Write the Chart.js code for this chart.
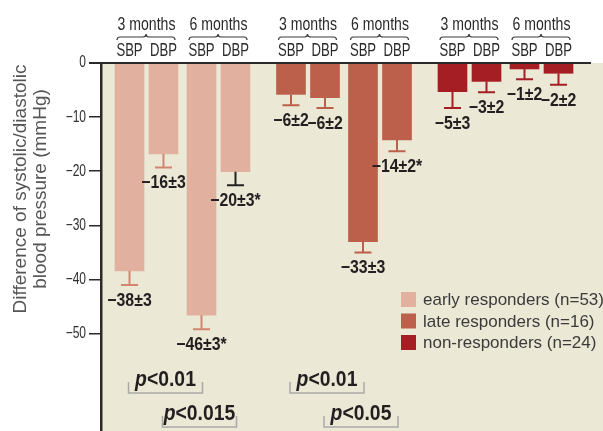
<!DOCTYPE html>
<html><head><meta charset="utf-8">
<script src="https://cdn.jsdelivr.net/npm/chart.js@4.4.1/dist/chart.umd.min.js"></script>
<style>html,body{margin:0;padding:0;background:#fff;overflow:hidden}canvas{display:block}</style>
</head><body>
<canvas id="c" width="603" height="431"></canvas>
<script>
// ---------- data ----------
const groupLabels = ['early responders (n=53)', 'late responders (n=16)', 'non-responders (n=24)'];
const periodLabels = ['3 months', '6 months'];
const measureLabels = ['SBP', 'DBP'];
// bar order inside a group: 3m SBP, 3m DBP, 6m SBP, 6m DBP
const earlyMeans = [-38.4, -16.8, -46.6, -20.1];
const earlyErrors = [2.6, 2.5, 2.6, 2.5];
const earlyTexts = ['\u221238\u00b13', '\u221216\u00b13', '\u221246\u00b13*', '\u221220\u00b13*'];
const lateMeans = [-5.8, -6.4, -33.0, -14.2];
const lateErrors = [2.0, 1.9, 2.0, 2.1];
const lateTexts = ['\u22126\u00b12', '\u22126\u00b12', '\u221233\u00b13', '\u221214\u00b12*'];
const nonMeans = [-5.3, -3.4, -1.1, -1.9];
const nonErrors = [3.0, 2.0, 1.9, 2.1];
const nonTexts = ['\u22125\u00b13', '\u22123\u00b12', '\u22121\u00b12', '\u22122\u00b12'];
const yTicks = [0, -10, -20, -30, -40, -50];
const axisTitle = ['Difference of systolic/diastolic', 'blood pressure (mmHg)'];
// significance comparisons: group, bar a, bar b, text
const compGroups = [0, 0, 1, 1];
const compA = [0, 1, 0, 1];
const compB = [2, 3, 2, 3];
const compTexts = ['<0.01', '<0.015', '<0.01', '<0.05'];

// ---------- layout / style ----------
const LAYOUT = { axisWidth: 101, top: 63, yMin: -68, xMax: 502,
  firstCenter: 28.5, groupStep: 161.5, periodStep: 72, barStep: 34, barWidth: 29 };
const barColors = ['#e1b09f', '#bc5f4b', '#a51e23'];
const errColors = ['#d4856f', '#bc5f4b', '#a51e23'];
const SANS = '"Liberation Sans", Arial, sans-serif';
const INK = '#231f20';

const series = [
  { label: groupLabels[0], means: earlyMeans, errs: earlyErrors, texts: earlyTexts },
  { label: groupLabels[1], means: lateMeans, errs: lateErrors, texts: lateTexts },
  { label: groupLabels[2], means: nonMeans, errs: nonErrors, texts: nonTexts }
];
function slotX(g, k) {
  return LAYOUT.firstCenter + g * LAYOUT.groupStep + Math.floor(k / 2) * LAYOUT.periodStep + (k % 2) * LAYOUT.barStep;
}

// draw text compressed horizontally (condensed look)
function sText(ctx, text, x, y, font, sx, align, baseline, color) {
  ctx.save();
  ctx.font = font;
  const w = ctx.measureText(text).width * sx;
  const left = align === 'center' ? x - w / 2 : align === 'right' ? x - w : x;
  ctx.translate(left, y);
  ctx.scale(sx, 1);
  ctx.textAlign = 'left';
  ctx.textBaseline = baseline || 'alphabetic';
  ctx.fillStyle = color || INK;
  ctx.fillText(text, 0, 0);
  ctx.restore();
  return w;
}
function textW(ctx, text, font, sx) {
  ctx.save(); ctx.font = font; const w = ctx.measureText(text).width * sx; ctx.restore(); return w;
}

function drawBrace(ctx, x1, x2, yy) {
  const m = (x1 + x2) / 2, r = 3;
  ctx.strokeStyle = '#3a3a3a';
  ctx.lineWidth = 1.2;
  ctx.beginPath();
  ctx.moveTo(x1, yy + r);
  ctx.quadraticCurveTo(x1, yy, x1 + r, yy);
  ctx.lineTo(m - r, yy);
  ctx.quadraticCurveTo(m, yy, m, yy - r);
  ctx.quadraticCurveTo(m, yy, m + r, yy);
  ctx.lineTo(x2 - r, yy);
  ctx.quadraticCurveTo(x2, yy, x2, yy + r);
  ctx.stroke();
}

const decor = {
  id: 'decor',
  beforeDraw(chart) {
    const { ctx, chartArea: ca } = chart;
    ctx.save();
    ctx.fillStyle = '#ffffff';
    ctx.fillRect(0, 0, chart.width, chart.height);
    ctx.fillStyle = '#ece8d6';
    ctx.fillRect(ca.left, ca.top, chart.width - ca.left, chart.height - ca.top);
    ctx.restore();
  },
  afterDatasetsDraw(chart) {
    const { ctx, chartArea: ca } = chart;
    const y = chart.scales.y;
    const y0 = y.getPixelForValue(0);
    ctx.save();
    // zero line
    ctx.strokeStyle = '#2a2a2a';
    ctx.lineWidth = 2;
    ctx.beginPath();
    ctx.moveTo(ca.left - 12, y0);
    ctx.lineTo(591, y0);
    ctx.stroke();

    // y tick labels (condensed)
    y.ticks.forEach(t => {
      const txt = t.value === 0 ? '0' : '\u2212' + Math.abs(t.value);
      sText(ctx, txt, ca.left - 15, y.getPixelForValue(t.value), '16px ' + SANS, 0.75, 'right', 'middle', '#2f2f2f');
    });

    // error bars + value labels
    series.forEach((s, g) => {
      const meta = chart.getDatasetMeta(g);
      meta.data.forEach((el, k) => {
        const yEnd = y.getPixelForValue(s.means[k] - s.errs[k]);
        const black = (g === 0 && k === 3);
        ctx.strokeStyle = black ? '#222' : errColors[g];
        ctx.lineWidth = 2;
        ctx.beginPath();
        ctx.moveTo(el.x, el.y);
        ctx.lineTo(el.x, yEnd);
        ctx.moveTo(el.x - 8.5, yEnd);
        ctx.lineTo(el.x + 8.5, yEnd);
        ctx.stroke();
        sText(ctx, s.texts[k], el.x, yEnd + 16, 'bold 18px ' + SANS, 0.88, 'center', 'middle', INK);
      });
      // headers
      periodLabels.forEach((p, t) => {
        const a = meta.data[2 * t], b = meta.data[2 * t + 1];
        const mid = (a.x + b.x) / 2;
        sText(ctx, p, mid, 25, '19px ' + SANS, 0.74, 'center', 'middle', '#2a2a2a');
        drawBrace(ctx, a.x - 12.5, b.x + 11.5, 37);
        measureLabels.forEach((m, j) => {
          sText(ctx, m, meta.data[2 * t + j].x, 51, '19px ' + SANS, 0.69, 'center', 'middle', '#2a2a2a');
        });
      });
    });

    // significance brackets
    compTexts.forEach((txt, i) => {
      const meta = chart.getDatasetMeta(compGroups[i]);
      const xa = meta.data[compA[i]].x - 1, xb = meta.data[compB[i]].x + 1;
      const row = compA[i] % 2;
      const yb = row === 0 ? 393 : 427;
      ctx.strokeStyle = '#a9a9a9';
      ctx.lineWidth = 1.5;
      ctx.beginPath();
      ctx.moveTo(xa, yb - 11);
      ctx.lineTo(xa, yb);
      ctx.lineTo(xb, yb);
      ctx.lineTo(xb, yb - 11);
      ctx.stroke();
      const fp = 'italic bold 22px ' + SANS, ft = 'bold 22px ' + SANS, sx = 0.88;
      const wp = textW(ctx, 'p', fp, sx), wt = textW(ctx, txt, ft, sx);
      const x0 = (xa + xb) / 2 - (wp + wt) / 2;
      sText(ctx, 'p', x0, yb - 7, fp, sx, 'left', 'alphabetic', INK);
      sText(ctx, txt, x0 + wp, yb - 7, ft, sx, 'left', 'alphabetic', INK);
    });

    // legend
    series.forEach((s, g) => {
      const cy = 299.5 + g * 21.5;
      ctx.fillStyle = barColors[g];
      ctx.fillRect(401, cy - 7.5, 15, 15);
      ctx.fillStyle = '#3a3a3a';
      ctx.font = '17px ' + SANS;
      ctx.textAlign = 'left';
      ctx.textBaseline = 'middle';
      ctx.fillText(s.label, 423, cy + 1);
    });

    // y-axis title
    ctx.save();
    ctx.translate(0, 189);
    ctx.rotate(-Math.PI / 2);
    ctx.fillStyle = '#555';
    ctx.font = '19px ' + SANS;
    ctx.textAlign = 'center';
    ctx.textBaseline = 'middle';
    axisTitle.forEach((line, i) => ctx.fillText(line, 0, 21 + i * 20));
    ctx.restore();

    ctx.restore();
  }
};

new Chart(document.getElementById('c'), {
  type: 'bar',
  data: {
    datasets: series.map((s, g) => ({
      label: s.label,
      data: s.means.map((v, k) => ({ x: slotX(g, k), y: v })),
      backgroundColor: barColors[g],
      borderWidth: 0,
      barThickness: LAYOUT.barWidth,
      grouped: false
    }))
  },
  options: {
    responsive: false,
    animation: false,
    devicePixelRatio: 1,
    layout: { padding: { top: LAYOUT.top, left: 0, right: 0, bottom: 0 } },
    plugins: { legend: { display: false }, tooltip: { enabled: false } },
    scales: {
      x: { type: 'linear', min: 0, max: LAYOUT.xMax, display: false, offset: false },
      y: {
        min: LAYOUT.yMin, max: 0,
        afterBuildTicks: s => { s.ticks = yTicks.map(v => ({ value: v })); },
        afterFit: s => { s.width = LAYOUT.axisWidth; },
        ticks: { display: false },
        grid: { drawOnChartArea: false, drawTicks: true, tickLength: 12, color: '#2a2a2a', lineWidth: 1.5 },
        border: { display: true, color: '#2a2a2a', width: 2.5 }
      }
    }
  },
  plugins: [decor]
});
</script>
</body></html>
